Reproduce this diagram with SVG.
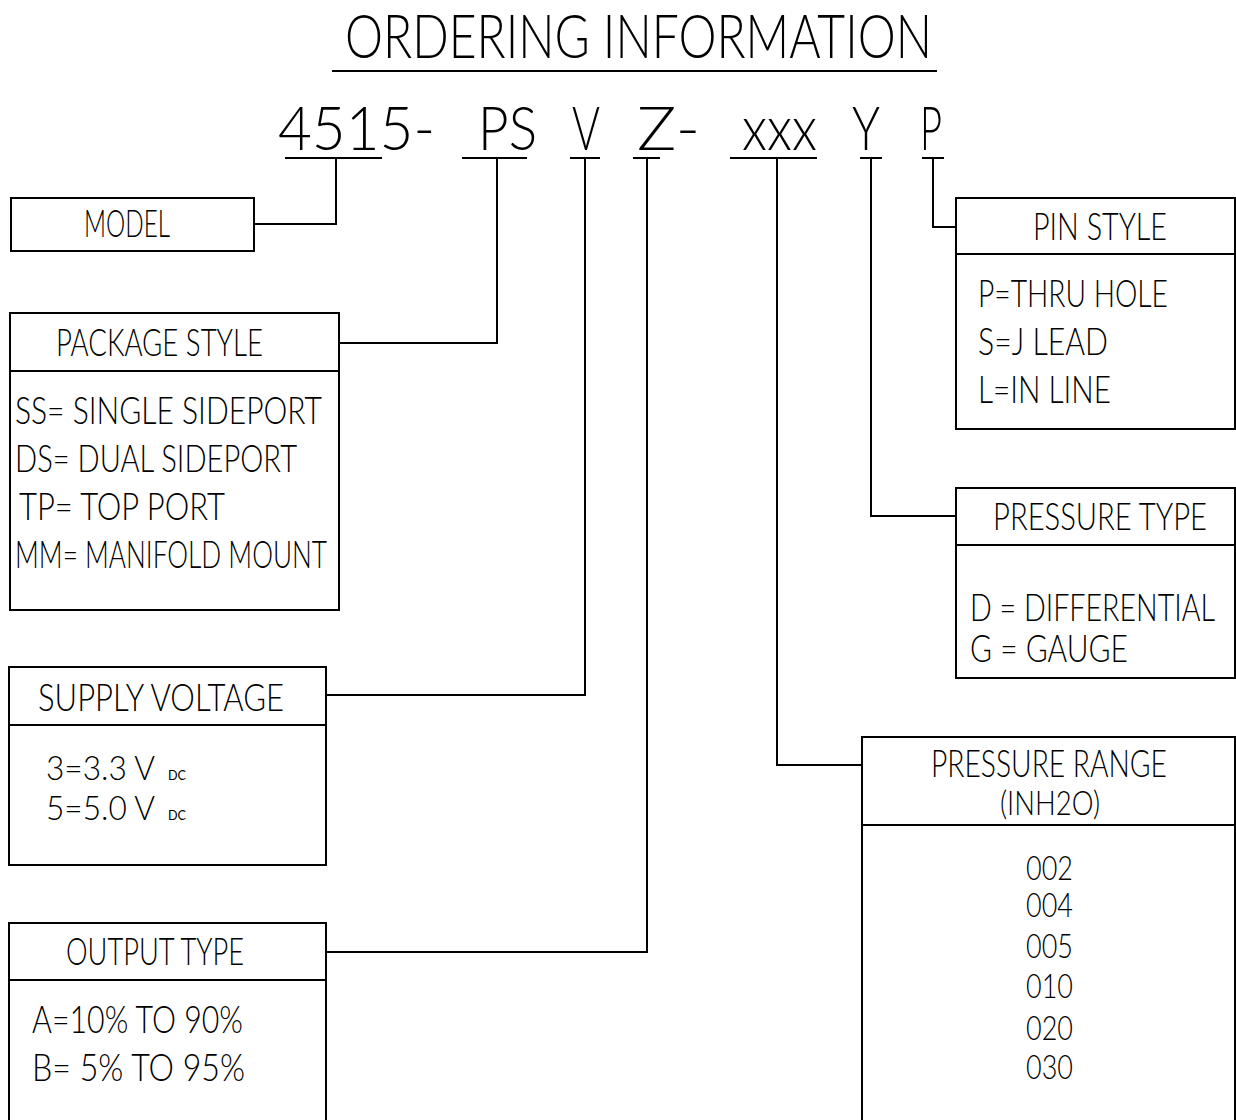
<svg xmlns="http://www.w3.org/2000/svg" width="1236" height="1120" viewBox="0 0 1236 1120">
<style>
  .bg { fill: #ffffff; }
  .box { fill: none; stroke: #000; stroke-width: 2; }
  .ln { fill: none; stroke: #000; stroke-width: 2; }
  text { font-family: "Lato", "Liberation Sans", sans-serif; font-weight: 300; fill: #000; }
  .t { font-size: 37px; }
  .h { font-size: 37px; }
  .n { font-size: 34px; }
  .v { font-size: 34px; }
  .big { font-size: 62px; }
  .sub { font-size: 14px; font-weight: 400; }
</style>
<rect class="bg" x="0" y="0" width="1236" height="1120"/>

<g id="title">
  <text class="big" x="345" y="58" textLength="587" lengthAdjust="spacingAndGlyphs">ORDERING INFORMATION</text>
  <line class="ln" x1="332" y1="71" x2="937" y2="71"/>
</g>

<g id="code">
  <text class="big" x="278" y="150" textLength="157" lengthAdjust="spacingAndGlyphs">4515-</text>
  <text class="big" x="478" y="150" textLength="59" lengthAdjust="spacingAndGlyphs">PS</text>
  <text class="big" x="572" y="150" textLength="28" lengthAdjust="spacingAndGlyphs">V</text>
  <text class="big" x="637" y="150" textLength="63" lengthAdjust="spacingAndGlyphs">Z-</text>
  <text class="big" x="742" y="150" textLength="75" lengthAdjust="spacingAndGlyphs">xxx</text>
  <text class="big" x="852" y="150" textLength="28" lengthAdjust="spacingAndGlyphs">Y</text>
  <text class="big" x="920" y="150" textLength="22" lengthAdjust="spacingAndGlyphs">P</text>
</g>

<g id="connectors">
  <polyline class="ln" points="285,158 382,158"/>
  <polyline class="ln" points="336,158 336,224 254,224"/>
  <polyline class="ln" points="462,158 527,158"/>
  <polyline class="ln" points="497,158 497,343 339,343"/>
  <polyline class="ln" points="570,158 600,158"/>
  <polyline class="ln" points="585,158 585,695 326,695"/>
  <polyline class="ln" points="633,158 660,158"/>
  <polyline class="ln" points="647,158 647,952 326,952"/>
  <polyline class="ln" points="730,158 817,158"/>
  <polyline class="ln" points="777,158 777,765 862,765"/>
  <polyline class="ln" points="860,158 882,158"/>
  <polyline class="ln" points="871,158 871,516 956,516"/>
  <polyline class="ln" points="922,158 944,158"/>
  <polyline class="ln" points="933,158 933,227 956,227"/>
</g>

<g id="model">
  <rect class="box" x="11" y="198" width="243" height="53"/>
  <text class="h" x="84" y="237" textLength="86" lengthAdjust="spacingAndGlyphs">MODEL</text>
</g>

<g id="package-style">
  <rect class="box" x="10" y="313" width="329" height="297"/>
  <line class="ln" x1="10" y1="371" x2="339" y2="371"/>
  <text class="h" x="56" y="356" textLength="207" lengthAdjust="spacingAndGlyphs">PACKAGE STYLE</text>
  <text class="t" x="15" y="424" textLength="307" lengthAdjust="spacingAndGlyphs">SS= SINGLE SIDEPORT</text>
  <text class="t" x="15" y="472" textLength="282" lengthAdjust="spacingAndGlyphs">DS= DUAL SIDEPORT</text>
  <text class="t" x="19" y="520" textLength="206" lengthAdjust="spacingAndGlyphs">TP= TOP PORT</text>
  <text class="t" x="15" y="568" textLength="312" lengthAdjust="spacingAndGlyphs">MM= MANIFOLD MOUNT</text>
</g>

<g id="supply-voltage">
  <rect class="box" x="9" y="667" width="317" height="198"/>
  <line class="ln" x1="9" y1="725" x2="326" y2="725"/>
  <text class="h" x="38" y="711" textLength="246" lengthAdjust="spacingAndGlyphs">SUPPLY VOLTAGE</text>
  <text class="v" x="46" y="780" textLength="109" lengthAdjust="spacingAndGlyphs">3=3.3 V</text>
  <text class="sub" x="168" y="780" textLength="18" lengthAdjust="spacingAndGlyphs">DC</text>
  <text class="v" x="46" y="820" textLength="109" lengthAdjust="spacingAndGlyphs">5=5.0 V</text>
  <text class="sub" x="168" y="820" textLength="18" lengthAdjust="spacingAndGlyphs">DC</text>
</g>

<g id="output-type">
  <rect class="box" x="9" y="923" width="317" height="210"/>
  <line class="ln" x1="9" y1="980" x2="326" y2="980"/>
  <text class="h" x="66" y="965" textLength="178" lengthAdjust="spacingAndGlyphs">OUTPUT TYPE</text>
  <text class="t" x="32" y="1033" textLength="211" lengthAdjust="spacingAndGlyphs">A=10% TO 90%</text>
  <text class="t" x="32" y="1081" textLength="213" lengthAdjust="spacingAndGlyphs">B= 5% TO 95%</text>
</g>

<g id="pin-style">
  <rect class="box" x="956" y="198" width="279" height="231"/>
  <line class="ln" x1="956" y1="254" x2="1235" y2="254"/>
  <text class="h" x="1033" y="240" textLength="134" lengthAdjust="spacingAndGlyphs">PIN STYLE</text>
  <text class="t" x="978" y="307" textLength="190" lengthAdjust="spacingAndGlyphs">P=THRU HOLE</text>
  <text class="t" x="978" y="355" textLength="130" lengthAdjust="spacingAndGlyphs">S=J LEAD</text>
  <text class="t" x="978" y="403" textLength="133" lengthAdjust="spacingAndGlyphs">L=IN LINE</text>
</g>

<g id="pressure-type">
  <rect class="box" x="956" y="488" width="279" height="190"/>
  <line class="ln" x1="956" y1="545" x2="1235" y2="545"/>
  <text class="h" x="993" y="530" textLength="214" lengthAdjust="spacingAndGlyphs">PRESSURE TYPE</text>
  <text class="t" x="970" y="621" textLength="245" lengthAdjust="spacingAndGlyphs">D = DIFFERENTIAL</text>
  <text class="t" x="970" y="662" textLength="158" lengthAdjust="spacingAndGlyphs">G = GAUGE</text>
</g>

<g id="pressure-range">
  <rect class="box" x="862" y="737" width="373" height="396"/>
  <line class="ln" x1="862" y1="825" x2="1235" y2="825"/>
  <text class="h" x="931" y="777" textLength="236" lengthAdjust="spacingAndGlyphs">PRESSURE RANGE</text>
  <text class="n" x="1000" y="815" textLength="100" lengthAdjust="spacingAndGlyphs">(INH2O)</text>
  <text class="n" x="1026" y="880" textLength="47" lengthAdjust="spacingAndGlyphs">002</text>
  <text class="n" x="1026" y="917" textLength="47" lengthAdjust="spacingAndGlyphs">004</text>
  <text class="n" x="1026" y="958" textLength="47" lengthAdjust="spacingAndGlyphs">005</text>
  <text class="n" x="1026" y="998" textLength="47" lengthAdjust="spacingAndGlyphs">010</text>
  <text class="n" x="1026" y="1040" textLength="47" lengthAdjust="spacingAndGlyphs">020</text>
  <text class="n" x="1026" y="1079" textLength="47" lengthAdjust="spacingAndGlyphs">030</text>
</g>
</svg>
